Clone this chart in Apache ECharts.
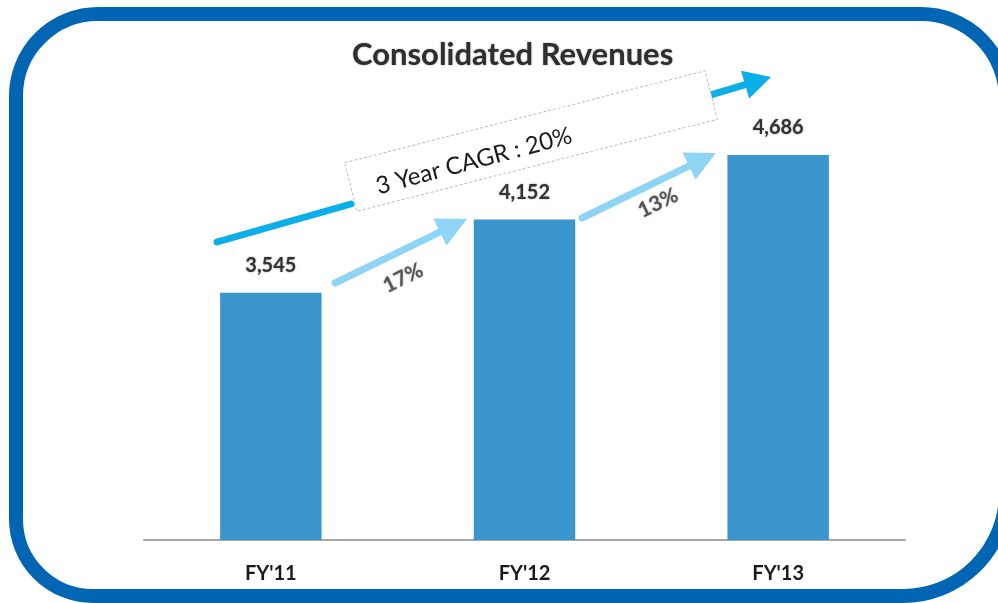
<!DOCTYPE html>
<html>
<head>
<meta charset="utf-8">
<title>Consolidated Revenues</title>
<script src="https://cdn.jsdelivr.net/npm/echarts@6/dist/echarts.min.js"></script>
<style>
  html, body { margin: 0; padding: 0; background: #fff; }
  #chart { width: 998px; height: 603px; }
</style>
</head>
<body>
<div id="chart"></div>
<script>
// data
const years = ["FY'11", "FY'12", "FY'13"];
const revenues = [3545, 4152, 4686];
const growthLabels = ["17%", "13%"];
const cagrLabel = "3 Year CAGR : 20%";

const FONT = "Lato, 'Open Sans', sans-serif";

function fmt(v) {
  return String(v).replace(/\B(?=(\d{3})+(?!\d))/g, ",");
}

// arrow = line + triangle head, tip at (x2, y2)
function arrow(x1, y1, x2, y2, color, lw, headLen, headW) {
  const ang = Math.atan2(y2 - y1, x2 - x1);
  const bx = x2 - headLen * Math.cos(ang);
  const by = y2 - headLen * Math.sin(ang);
  const px = -Math.sin(ang) * headW / 2;
  const py = Math.cos(ang) * headW / 2;
  return [
    {
      type: "line",
      shape: { x1: x1, y1: y1, x2: bx + 2 * Math.cos(ang), y2: by + 2 * Math.sin(ang) },
      style: { stroke: color, lineWidth: lw, lineCap: "round" },
      z: 10
    },
    {
      type: "polygon",
      shape: { points: [[x2, y2], [bx + px, by + py], [bx - px, by - py]] },
      style: { fill: color },
      z: 10
    }
  ];
}

function pctText(x, y, txt) {
  return {
    type: "text",
    x: x, y: y,
    rotation: 0.45,
    style: {
      text: txt,
      font: "bold 21px " + FONT,
      fill: "#555",
      textAlign: "center",
      textVerticalAlign: "middle",
      textShadowColor: "rgba(0,0,0,0.35)",
      textShadowBlur: 2
    },
    z: 12
  };
}

const chart = echarts.init(document.getElementById("chart"));

const graphics = [
  // outer frame (right side runs past the window edge)
  {
    type: "rect",
    shape: { x: 16, y: 14, width: 990, height: 582, r: [82, 85, 103, 77] },
    style: { fill: "none", stroke: "#0066b3", lineWidth: 14 },
    z: 1
  },
  // big CAGR arrow (two pieces around the label)
  {
    type: "line",
    shape: { x1: 217, y1: 242, x2: 351, y2: 204 },
    style: { stroke: "#0aaee9", lineWidth: 7, lineCap: "round" },
    z: 10
  }
].concat(
  arrow(603, 127, 771, 77, "#0aaee9", 7, 27, 29),
  arrow(335, 283, 467, 219, "#8dd4f5", 7, 30, 30),
  arrow(582, 218, 716, 153, "#8dd4f5", 7, 30, 30),
  [
    // CAGR box
    {
      type: "rect",
      x: 531, y: 141,
      rotation: 0.25,
      shape: { x: -186, y: -25, width: 372, height: 50 },
      style: { fill: "#fff", stroke: "#bdbdbd", lineWidth: 1, lineDash: [3, 2] },
      z: 11
    },
    {
      type: "text",
      x: 474, y: 161,
      rotation: 0.26,
      style: {
        text: cagrLabel,
        font: "24px " + FONT,
        fill: "#1a1a1a",
        textAlign: "center",
        textVerticalAlign: "middle"
      },
      z: 12
    },
    pctText(403, 278, growthLabels[0]),
    pctText(658, 203, growthLabels[1])
  ]
);

chart.setOption({
  animation: false,
  backgroundColor: "#fff",
  title: {
    text: "Consolidated Revenues",
    left: 347,
    top: 34,
    textStyle: {
      fontFamily: FONT,
      fontWeight: "bold",
      fontSize: 31,
      color: "#2e2e2e",
      textShadowColor: "rgba(0,0,0,0.4)",
      textShadowBlur: 2
    }
  },
  grid: { left: 144, right: 93, top: 117, bottom: 63 },
  xAxis: {
    type: "category",
    data: years,
    axisLine: { lineStyle: { color: "#a6a6a6", width: 2 } },
    axisTick: { show: false },
    axisLabel: {
      margin: 24,
      fontFamily: FONT,
      fontWeight: "bold",
      fontSize: 20,
      color: "#1a1a1a"
    }
  },
  yAxis: {
    type: "value",
    min: 1500,
    max: 5000,
    show: false,
    splitLine: { show: false }
  },
  series: [
    {
      type: "bar",
      data: revenues,
      barWidth: "40%",
      itemStyle: { color: "#3995cb" },
      label: {
        show: true,
        position: "top",
        distance: 17,
        formatter: (p) => fmt(p.value),
        fontFamily: FONT,
        fontWeight: "bold",
        fontSize: 20,
        color: "#333",
        textShadowColor: "rgba(0,0,0,0.4)",
        textShadowBlur: 2
      }
    }
  ],
  graphic: { elements: graphics }
});
</script>
</body>
</html>
